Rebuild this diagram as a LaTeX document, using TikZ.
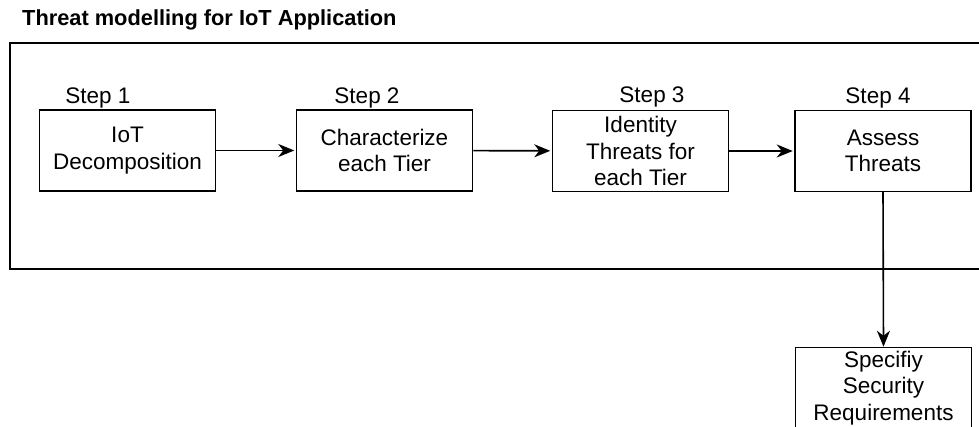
\documentclass[tikz,border=0pt]{standalone}
\usepackage{fontspec}
\setmainfont{Liberation Sans}
\usetikzlibrary{arrows.meta}
\begin{document}
\begin{tikzpicture}[x=1pt,y=-1pt,
  stepbox/.style={draw, line width=1.5pt, minimum width=176pt, minimum height=81pt,
    inner sep=0pt, align=center, font=\fontsize{22.5}{26.5}\selectfont},
  steplabel/.style={anchor=base, inner sep=0pt, font=\fontsize{22.5}{26.5}\selectfont},
  flow/.style={line width=1.6pt, -{Stealth[length=16pt,width=13pt,inset=5pt]}}]
\clip (0,0) rectangle (979,427);

% title
\node[anchor=base west, inner sep=0pt, font=\bfseries\fontsize{21.8}{26}\selectfont]
  (title) at (22,26) {Threat modelling for IoT Application};

% enclosing frame (runs past the right edge)
\draw[line width=1.5pt] (10,43) rectangle (1010,269);

% process steps
\node[stepbox] (s1) at (127.5,150.5) {IoT\\Decomposition};
\node[stepbox] (s2) at (384.5,150.5) {Characterize\\each Tier};
\node[stepbox] (s3) at (640.5,151) {Identity\\Threats for\\each Tier};
\node[stepbox] (s4) at (883,151) {Assess\\Threats};
\node[stepbox] (s5) at (883.5,388) {Specifiy\\Security\\Requirements};

% step captions
\node[steplabel] (l1) at (98,104) {Step 1};
\node[steplabel] (l2) at (367,104) {Step 2};
\node[steplabel] (l3) at (652,103) {Step 3};
\node[steplabel] (l4) at (878,104) {Step 4};

% connectors
\draw[flow, shorten >=1.5pt] (s1) -- (s2);
\draw[flow, shorten >=1.5pt] (s2) -- (s3);
\draw[flow, shorten >=1.5pt] (s3) -- (s4);
\draw[flow] (s4.south) -- (s5.north);
\end{tikzpicture}
\end{document}
